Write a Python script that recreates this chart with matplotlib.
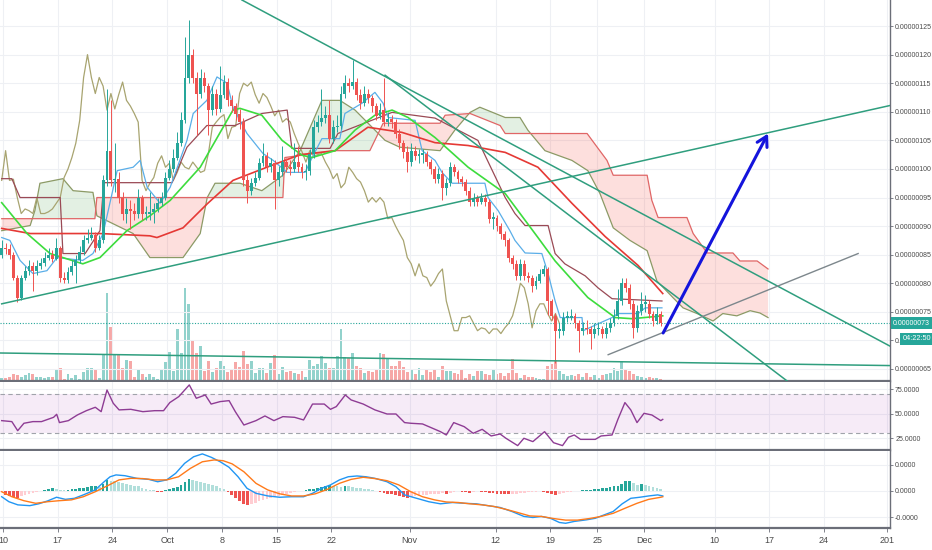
import numpy as np
import matplotlib
matplotlib.use('Agg')
import matplotlib.pyplot as plt
from matplotlib.transforms import blended_transform_factory as blend

# ---------------- data (price unit = 1e-7) ----------------
first_open = 8.50
close = [8.62, 8.60, 8.50, 8.10, 7.75, 8.10, 8.22, 8.30, 8.22, 8.30,
         8.35, 8.45, 8.50, 8.43, 8.62, 8.10, 8.05, 8.20, 8.30, 8.40,
         8.55, 8.75, 8.80, 8.85, 8.62, 8.75, 9.80, 10.32, 9.80, 9.82,
         9.50, 9.22, 9.30, 9.27, 9.22, 9.50, 9.22, 9.22, 9.25, 9.30,
         9.40, 9.50, 9.85, 10.00, 10.20, 10.45, 10.85, 11.60, 12.00, 11.60,
         11.32, 11.60, 11.45, 11.03, 11.32, 11.05, 11.30, 11.52, 11.20, 11.10,
         10.97, 10.82, 9.80, 9.62, 9.75, 9.85, 10.10, 10.23, 10.03, 10.10,
         9.80, 9.94, 10.12, 10.03, 10.00, 10.12, 10.03, 9.94, 9.97, 10.27,
         10.73, 10.82, 10.90, 10.95, 10.53, 10.73, 10.75, 11.32, 11.50, 11.45,
         11.52, 11.30, 11.15, 11.32, 11.25, 11.10, 10.93, 11.03, 10.82, 10.88,
         10.82, 10.62, 10.45, 10.30, 10.12, 10.32, 10.23, 10.25, 10.27, 10.12,
         10.00, 9.83, 9.92, 9.67, 9.75, 10.03, 9.94, 9.83, 9.77, 9.62,
         9.42, 9.50, 9.42, 9.50, 9.42, 9.13, 9.15, 9.00, 8.87, 8.75,
         8.45, 8.34, 8.13, 8.34, 8.13, 8.10, 7.95, 8.04, 8.17, 8.25,
         7.69, 7.43, 7.17, 7.17, 7.40, 7.40, 7.43, 7.30, 7.17, 7.22,
         7.20, 7.12, 7.20, 7.20, 7.12, 7.22, 7.30, 7.43, 7.69, 8.00,
         7.92, 7.64, 7.22, 7.52, 7.64, 7.64, 7.47, 7.34, 7.47, 7.30]
high = [8.75, 8.70, 8.68, 8.55, 8.15, 8.15, 8.30, 8.40, 8.38, 8.40,
        8.45, 8.55, 8.62, 8.58, 8.80, 8.65, 8.20, 8.28, 8.40, 8.50,
        8.65, 8.85, 8.95, 8.98, 8.90, 8.85, 9.90, 11.40, 11.20, 10.45,
        9.95, 9.60, 9.50, 9.45, 9.40, 9.65, 9.55, 9.35, 9.60, 9.40,
        9.50, 9.60, 9.95, 10.15, 10.35, 10.65, 11.00, 12.30, 12.60, 12.10,
        11.70, 11.75, 11.70, 11.50, 11.45, 11.40, 11.80, 11.65, 11.60, 11.30,
        11.15, 11.05, 10.90, 9.90, 9.85, 9.95, 10.20, 10.45, 10.30, 10.20,
        10.15, 10.05, 10.40, 10.20, 10.15, 10.45, 10.40, 10.10, 10.08, 10.35,
        10.85, 10.95, 11.40, 11.10, 11.20, 10.85, 10.95, 11.45, 11.65, 11.60,
        11.90, 11.60, 11.40, 11.45, 11.40, 11.30, 11.15, 11.15, 11.60, 11.00,
        10.95, 10.88, 10.70, 10.50, 10.40, 10.45, 10.40, 10.35, 10.35, 10.32,
        10.18, 10.05, 10.02, 9.98, 9.85, 10.12, 10.08, 9.98, 9.88, 9.82,
        9.68, 9.58, 9.55, 9.58, 9.56, 9.48, 9.25, 9.20, 9.05, 8.92,
        8.80, 8.50, 8.40, 8.42, 8.40, 8.20, 8.15, 8.12, 8.25, 8.32,
        8.28, 7.72, 7.48, 7.30, 7.50, 7.52, 7.55, 7.48, 7.35, 7.32,
        7.35, 7.25, 7.30, 7.32, 7.25, 7.32, 7.40, 7.55, 7.90, 8.10,
        8.10, 7.98, 7.70, 7.62, 7.85, 7.80, 7.70, 7.52, 7.58, 7.52]
low = [8.45, 8.52, 8.42, 8.05, 7.68, 7.70, 8.05, 8.15, 7.87, 8.15,
       8.25, 8.30, 8.40, 8.38, 8.40, 8.02, 8.00, 8.00, 8.15, 8.00,
       8.35, 8.50, 8.70, 8.75, 8.55, 8.58, 8.70, 9.70, 9.70, 9.60,
       9.40, 9.10, 9.05, 8.95, 9.10, 9.15, 9.10, 9.10, 9.10, 9.05,
       9.25, 9.35, 9.45, 9.80, 9.95, 10.15, 10.40, 10.80, 11.50, 11.50,
       10.60, 11.25, 11.35, 10.60, 10.95, 10.95, 11.00, 11.25, 11.10, 11.00,
       10.85, 10.70, 9.70, 9.40, 9.55, 9.70, 9.80, 10.05, 9.95, 9.95,
       9.30, 9.70, 9.88, 9.95, 9.90, 9.95, 9.95, 9.85, 9.80, 9.90,
       10.20, 10.65, 10.75, 10.80, 10.45, 10.45, 10.65, 10.70, 11.25, 11.35,
       11.40, 11.20, 11.05, 11.10, 11.15, 11.00, 10.85, 10.88, 10.75, 10.75,
       10.72, 10.55, 10.35, 10.20, 9.95, 10.05, 10.15, 10.10, 10.10, 10.05,
       9.92, 9.75, 9.75, 9.45, 9.55, 9.70, 9.88, 9.75, 9.70, 9.55,
       9.35, 9.35, 9.35, 9.38, 9.35, 9.05, 8.95, 8.92, 8.78, 8.65,
       8.38, 8.25, 8.05, 8.05, 8.05, 8.02, 7.85, 7.90, 8.00, 8.12,
       7.45, 7.35, 6.60, 7.05, 7.10, 7.32, 7.35, 7.22, 6.80, 7.10,
       7.12, 6.85, 7.05, 7.10, 7.05, 7.05, 7.15, 7.25, 7.38, 7.62,
       7.85, 7.55, 7.05, 7.15, 7.45, 7.50, 7.40, 7.25, 7.28, 7.25]
volume = [8, 10, 12, 20, 17, 12, 17, 23, 22, 13,
          11, 10, 13, 12, 33, 40, 5, 22, 8, 17,
          5, 27, 38, 38, 32, 10, 78, 263, 162, 82,
          78, 40, 63, 60, 12, 36, 20, 12, 22, 12,
          6, 36, 58, 87, 30, 155, 85, 280, 232, 123,
          85, 105, 30, 60, 28, 40, 60, 45, 28, 32,
          57, 42, 90, 50, 60, 25, 40, 40, 25, 55,
          78, 22, 42, 28, 30, 24, 22, 30, 12, 63,
          45, 51, 75, 55, 38, 38, 75, 155, 72, 68,
          85, 45, 38, 25, 30, 27, 33, 85, 82, 68,
          45, 45, 60, 43, 28, 35, 20, 38, 18, 35,
          27, 33, 12, 45, 30, 30, 23, 20, 32, 10,
          20, 15, 30, 30, 20, 18, 37, 20, 25, 15,
          25, 65, 25, 10, 17, 13, 13, 8, 5, 5,
          45, 52, 62, 30, 20, 15, 17, 15, 20, 13,
          25, 12, 17, 10, 17, 22, 25, 40, 30, 60,
          35, 30, 20, 15, 12, 10, 12, 8, 8, 6]

# Ichimoku / moving averages (bar index, value)
tenkan_idx = [0, 2.1, 4.7, 8.0, 11.6, 14.2, 16.7, 20.8, 23.4, 26.0, 29.6, 33.7, 35.5, 37.3, 40.6,
              43.2, 47.5, 49.1, 52.6, 55.2, 57.8, 59.3, 62.9, 67.0, 69.6, 73.2, 77.8, 79.6, 82.1, 86.7,
              88.0, 92.4, 95.7, 97.8, 99.1, 106.0, 107.8, 111.1, 112.9, 115.5, 123.9, 124.7, 127.3, 130.3, 131.6,
              134.2, 138.5, 140.1, 141.9, 143.2, 148.8, 149.1, 152.9, 156.5, 158.0, 163.2, 165.0, 169.3]
tenkan_val = [8.80, 8.75, 8.40, 8.17, 8.22, 8.45, 8.43, 8.40, 8.52, 8.87, 9.97, 10.03, 10.15, 9.68, 9.40,
              9.68, 10.50, 10.97, 11.20, 11.61, 11.50, 11.08, 10.62, 10.27, 10.15, 9.94, 9.94, 10.20, 10.53, 10.53,
              10.97, 11.15, 11.34, 11.15, 10.90, 10.85, 10.32, 10.15, 9.94, 9.75, 9.75, 9.50, 9.27, 8.92, 8.75,
              8.53, 8.52, 8.17, 7.69, 7.40, 7.40, 7.17, 7.29, 7.40, 7.47, 7.47, 7.57, 7.57]
kijun_idx = [0, 2.6, 4.7, 15.0, 15.7, 21.4, 25.2, 26.2, 43.7, 47.5, 52.6, 59.8, 66.7, 73.2, 74.4,
             84.2, 86.2, 100.1, 111.1, 122.1, 129.1, 131.6, 134.2, 140.1, 141.9, 144.4, 149.6, 152.9, 156.5, 169.3]
kijun_val = [9.83, 9.83, 9.50, 9.50, 8.52, 8.52, 8.92, 9.76, 9.76, 10.38, 10.76, 10.76, 10.97, 11.03, 10.36,
             10.36, 10.62, 10.99, 10.89, 10.50, 9.50, 9.22, 9.01, 9.01, 8.52, 8.34, 8.13, 7.92, 7.73, 7.69]
spanA_idx = [0, 7.3, 8.5, 9.8, 15.7, 18.3, 23.4, 24.4, 33.7, 38.0, 46.5, 50.9, 52.7, 54.7, 61.1,
             66.7, 72.1, 76.5, 82.1, 86.7, 90.6, 95.7, 98.3, 102.1, 112.4, 116.2, 120.1, 122.6, 129.1, 132.9,
             134.9, 139.3, 146.2, 150.3, 153.4, 156.8, 161.1, 165.5, 168.0, 172.1, 174.7, 178.3, 182.4, 184.9, 188.5,
             191.9, 194.4, 196.5]
spanA_val = [8.92, 9.01, 9.27, 9.75, 9.83, 9.62, 9.59, 9.18, 8.87, 8.45, 8.45, 8.87, 9.50, 9.75, 9.75,
             9.62, 9.89, 10.32, 11.20, 11.20, 11.03, 10.68, 10.50, 10.38, 10.32, 10.68, 10.99, 11.08, 10.90, 10.90,
             10.68, 10.32, 10.15, 9.97, 9.57, 8.97, 8.75, 8.57, 8.04, 7.75, 7.57, 7.47, 7.34, 7.47, 7.43,
             7.52, 7.48, 7.40]
spanB_idx = [0, 23.9, 24.4, 72.1, 72.6, 85.5, 94.4, 97.8, 112.4, 113.7, 120.1, 127.8, 129.1, 150.1, 152.7,
             155.2, 156.8, 165.5, 166.7, 168.3, 175.7, 177.3, 180.9, 187.5, 189.3, 193.7, 196.5]
spanB_val = [9.13, 9.13, 9.50, 9.50, 10.20, 10.32, 10.32, 10.80, 10.80, 10.94, 10.97, 10.76, 10.62, 10.62, 10.38,
             10.15, 9.89, 9.89, 9.45, 9.15, 9.15, 8.87, 8.53, 8.53, 8.39, 8.39, 8.25]
ma_red_idx = [0, 7.3, 25.2, 38.0, 39.8, 46.5, 52.7, 59.3, 68.0, 76.5, 85.5, 93.9, 102.6, 111.1, 119.6,
              129.1, 137.5, 146.2, 154.7, 163.2, 169.5]
ma_red_val = [8.96, 8.87, 8.87, 8.83, 8.80, 8.97, 9.39, 9.80, 10.03, 10.25, 10.32, 10.73, 10.64, 10.46, 10.41,
              10.29, 10.03, 9.40, 8.82, 8.31, 7.82]
ma_green_idx = [0, 6.5, 12.4, 20.8, 25.2, 32.1, 38.0, 43.2, 50.9, 59.3, 61.1, 66.7, 71.9, 77.0, 79.6,
                85.5, 90.6, 95.7, 100.1, 104.2, 111.1, 119.6, 129.1, 137.5, 141.9, 150.3, 157.3, 161.6, 169.5]
ma_green_val = [9.41, 8.87, 8.52, 8.34, 8.45, 8.92, 9.18, 9.45, 10.03, 11.03, 11.06, 10.94, 10.50, 10.24, 10.20,
                10.32, 10.68, 10.94, 11.03, 10.90, 10.55, 10.03, 9.57, 8.80, 8.39, 7.75, 7.40, 7.38, 7.43]
chikou_shift = 26

# drawn trend lines (anchor points: bar index, price)
trend_lines = {
    'rise_long': [(0, 7.64), (227.77, 11.11)],
    'fall_top': [(61.6, 12.956), (227.77, 6.90)],
    'fall_mid': [(98.3, 11.64), (201.4, 6.29)],
    'base': [(-0.44, 6.78), (227.77, 6.56)],
}
grey_line = [(155.5, 6.75), (219.6, 8.52)]
arrow_pts = [(169.6, 7.13), (196.5, 10.62)]

# RSI
rsi_idx = [0, 2.6, 4.1, 5.7, 8.0, 10.2, 13.3, 14.1, 14.8, 17.1, 19.4, 21.7, 24.0, 25.5, 27.0,
           28.6, 30.1, 33.1, 36.2, 39.2, 41.5, 43.1, 45.4, 48.1, 49.9, 52.2, 53.7, 56.0, 58.3, 59.9,
           62.1, 65.2, 67.5, 69.8, 72.1, 75.1, 77.4, 79.7, 82.7, 84.3, 85.8, 88.1, 89.6, 92.7, 95.7,
           98.8, 101.1, 103.3, 104.9, 107.9, 112.5, 114.0, 115.9, 118.6, 120.9, 123.2, 125.5, 127.8, 129.3, 132.3,
           133.9, 136.2, 139.2, 141.5, 143.8, 145.3, 146.8, 148.4, 152.2, 153.7, 156.5, 158.0, 159.8, 161.3, 162.9,
           164.7, 166.7, 169.0, 169.5]
rsi_val = [43, 42, 32.7, 40.3, 42, 42, 46.4, 49.5, 41, 43, 48.8, 53.2, 56.7, 52.2, 74.4,
           60.8, 54, 54.6, 52.2, 53.2, 53.2, 61.5, 67.6, 79.6, 65.9, 69.3, 60, 62.5, 63.5, 52.2,
           38.5, 43, 47.8, 43, 47.1, 46.4, 43.7, 60, 60, 54.6, 57.4, 69.3, 64.2, 60, 54,
           49.8, 49.8, 41, 40.3, 39.6, 31.7, 28.3, 41, 36.8, 30, 34.1, 27.3, 29.3, 24.9, 17.4,
           24.9, 21.5, 31.7, 20.4, 17.4, 25.9, 28.3, 23.8, 23.8, 27.3, 28.3, 44.3, 61.5, 54, 41,
           50.5, 48.8, 43, 44.3]

# MACD (unit = 2e-9)
macd_idx = [0, 1.85, 4.14, 7.19, 9.48, 11.77, 14.06, 16.35, 18.64, 20.93, 23.98, 26.27, 27.8, 29.32, 31.61,
            34.66, 37.72, 40.0, 42.3, 44.6, 46.9, 49.2, 51.45, 53.74, 56.03, 58.3, 60.6, 62.9, 65.2, 68.24,
            71.3, 74.3, 77.4, 79.7, 82.0, 84.3, 86.6, 88.85, 91.1, 93.4, 95.7, 98.8, 101.1, 103.3, 106.4,
            109.5, 112.5, 115.6, 118.6, 121.7, 124.7, 127.8, 130.8, 133.9, 136.2, 138.4, 140.7, 143.0, 144.6, 146.8,
            149.9, 152.2, 154.5, 156.8, 159.1, 161.3, 163.6, 165.9, 168.2, 169.5]
macd_val = [-0.22, -0.41, -0.53, -0.56, -0.49, -0.38, -0.24, -0.32, -0.28, -0.15, 0.04, 0.35, 0.54, 0.61, 0.58,
            0.48, 0.44, 0.35, 0.42, 0.67, 1.05, 1.30, 1.41, 1.28, 1.11, 0.90, 0.54, 0.10, -0.09, -0.19,
            -0.24, -0.22, -0.22, -0.09, 0.10, 0.23, 0.42, 0.54, 0.57, 0.54, 0.48, 0.35, 0.16, -0.15, -0.28,
            -0.41, -0.49, -0.44, -0.47, -0.49, -0.56, -0.63, -0.78, -0.97, -1.01, -0.97, -1.04, -1.20, -1.23, -1.16,
            -1.10, -1.04, -0.91, -0.78, -0.49, -0.28, -0.24, -0.19, -0.15, -0.19]
signal_idx = [0, 2.61, 5.66, 8.72, 11.77, 14.82, 17.87, 20.93, 23.98, 27.03, 30.08, 33.14, 36.19, 39.24, 42.3,
              45.35, 48.4, 51.45, 54.5, 56.8, 59.1, 62.1, 65.2, 68.2, 71.3, 74.3, 77.4, 80.4, 83.5, 86.6,
              89.6, 92.7, 95.7, 98.8, 101.8, 104.9, 107.9, 111.0, 114.0, 117.1, 120.1, 123.2, 126.2, 129.3, 132.3,
              135.4, 138.4, 141.5, 144.6, 147.6, 150.7, 153.7, 156.8, 159.8, 162.9, 165.9, 169.0, 169.5]
signal_val = [-0.03, -0.22, -0.37, -0.47, -0.41, -0.37, -0.34, -0.22, -0.03, 0.19, 0.42, 0.48, 0.47, 0.42, 0.42,
              0.54, 0.86, 1.11, 1.18, 1.15, 1.03, 0.73, 0.29, 0.04, -0.11, -0.19, -0.19, -0.11, 0.06, 0.29,
              0.44, 0.52, 0.47, 0.39, 0.23, -0.03, -0.22, -0.34, -0.42, -0.44, -0.49, -0.53, -0.59, -0.70, -0.82,
              -0.95, -0.97, -1.05, -1.11, -1.11, -1.05, -0.97, -0.85, -0.66, -0.47, -0.32, -0.24, -0.22]
hist = [-0.05, -0.15, -0.20, -0.24, -0.25, -0.20, -0.15, -0.10, -0.06, -0.03,
        -0.01, 0.02, 0.08, 0.10, 0.09, 0.05, 0.03, 0.05, 0.07, 0.09,
        0.10, 0.12, 0.14, 0.17, 0.19, 0.15, 0.28, 0.42, 0.38, 0.36,
        0.33, 0.30, 0.27, 0.24, 0.20, 0.17, 0.13, 0.09, 0.05, 0.02,
        -0.03, -0.04, 0.02, 0.06, 0.10, 0.16, 0.24, 0.33, 0.45, 0.42,
        0.38, 0.34, 0.30, 0.26, 0.22, 0.17, 0.12, 0.06, -0.05, -0.15,
        -0.27, -0.38, -0.48, -0.55, -0.50, -0.45, -0.40, -0.35, -0.30, -0.26,
        -0.22, -0.18, -0.14, -0.10, -0.07, -0.04, -0.02, 0.01, 0.03, 0.06,
        0.08, 0.12, 0.16, 0.20, 0.22, 0.20, 0.18, 0.16, 0.20, 0.18,
        0.15, 0.13, 0.11, 0.09, 0.07, 0.04, -0.02, -0.05, -0.08, -0.10,
        -0.13, -0.16, -0.19, -0.22, -0.25, -0.22, -0.20, -0.18, -0.16, -0.14,
        -0.12, -0.10, -0.10, -0.08, -0.10, -0.06, -0.03, -0.02, -0.04, -0.05,
        -0.06, -0.04, -0.02, -0.03, -0.05, -0.07, -0.09, -0.10, -0.11, -0.12,
        -0.13, -0.12, -0.10, -0.08, -0.06, -0.05, -0.04, -0.03, -0.02, -0.04,
        -0.08, -0.12, -0.15, -0.13, -0.08, -0.05, -0.03, -0.02, -0.01, 0.02,
        0.03, 0.05, 0.06, 0.08, 0.10, 0.12, 0.14, 0.17, 0.20, 0.26,
        0.36, 0.38, 0.30, 0.24, 0.26, 0.22, 0.19, 0.15, 0.12, 0.08]

# axis labels
price_ticks = [6.5, 7.0, 7.5, 8.0, 8.5, 9.0, 9.5, 10.0, 10.5, 11.0, 11.5, 12.0, 12.5]
hidden_tick = 7.0          # label mostly covered by the countdown tag; only "0." shows
rsi_ticks = [25, 50, 75]
macd_ticks = [1, 0, -1]
macd_labels = ['0.0000', '0.0000', '-0.0000']
date_labels = ['10', '17', '24', 'Oct', '8', '15', '22', 'Nov', '12', '19', '25', 'Dec', '10', '17', '24', '201']
date_days = [0, 7, 14, 21, 28, 35, 42, 52, 63, 70, 76, 82, 91, 98, 105, 113]
countdown = '04:22:50'

# ---------------- layout ----------------
GREEN, RED = '#26a69a', '#ef5350'
GRID = '#eef0f4'
AXC = '#6b6e78'
TXT = '#4a4a4a'
fam = ['Liberation Sans', 'DejaVu Sans']
LS = 5.0
plt.rcParams['font.family'] = ['DejaVu Sans']

W, H = 932, 550
fig = plt.figure(figsize=(W / 100, H / 100), dpi=100)
fig.patch.set_facecolor('white')


def rect(x0, y0, x1, y1):
    return [x0 / W, 1 - y1 / H, (x1 - x0) / W, (y1 - y0) / H]


axv = fig.add_axes(rect(0, 0, 890, 381))
ax = fig.add_axes(rect(0, 0, 890, 381), sharex=axv)
ax.patch.set_visible(False)
axr = fig.add_axes(rect(0, 382, 890, 450), sharex=axv)
axm = fig.add_axes(rect(0, 451, 890, 528), sharex=axv)

n = len(close)
idx = np.arange(n)
c = np.array(close)
o = np.array([first_open] + close[:-1])
h = np.array(high)
l = np.array(low)
up = c >= o
cols = np.where(up, GREEN, RED)

bars_per_day = 2.005
day0 = 0.33
date_pos = [day0 + bars_per_day * d for d in date_days]

axv.set_xlim(-0.436, 227.77)

# grid
for a in (ax, axr, axm):
    for p in date_pos:
        a.axvline(p, color=GRID, lw=0.8, zorder=0)
for p in price_ticks:
    ax.axhline(p, color=GRID, lw=0.8, zorder=0)
for p in rsi_ticks:
    axr.axhline(p, color=GRID, lw=0.8, zorder=0)
for p in macd_ticks:
    axm.axhline(p, color=GRID, lw=0.8, zorder=0)

# volume
axv.bar(idx, volume, width=0.75, color=cols, alpha=0.5, linewidth=0)
axv.set_ylim(0, 1143)
axv.axis('off')

# cloud
xc = np.linspace(0, max(spanA_idx), 2000)
sa = np.interp(xc, spanA_idx, spanA_val)
sb = np.interp(xc, spanB_idx, spanB_val)
ax.fill_between(xc, sa, sb, where=sa >= sb, interpolate=True, color='#43a047', alpha=0.15, lw=0, zorder=1)
ax.fill_between(xc, sa, sb, where=sa < sb, interpolate=True, color='#f44336', alpha=0.17, lw=0, zorder=1)
ax.plot(spanA_idx, spanA_val, color='#8c9a66', lw=0.9, zorder=2)
ax.plot(spanB_idx, spanB_val, color='#e06666', lw=0.9, zorder=2)

# lines
ax.plot(idx[:n - chikou_shift], c[chikou_shift:], color='#a8a470', lw=0.9, zorder=2)
ax.plot(kijun_idx, kijun_val, color='#9a4a55', lw=0.9, zorder=2)
ax.plot(tenkan_idx, tenkan_val, color='#5aaee8', lw=0.9, zorder=2)
ax.plot(ma_red_idx, ma_red_val, color='#e53935', lw=1.2, zorder=2)
ax.plot(ma_green_idx, ma_green_val, color='#3ddc3d', lw=1.2, zorder=2)

# candles
ax.vlines(idx, l, h, colors=cols, lw=0.7, zorder=3)
body = np.maximum(np.abs(c - o), 0.025)
ax.bar(idx, body, bottom=np.minimum(o, c), width=0.75, color=cols, linewidth=0, zorder=3)

# current price line
ax.axhline(c[-1], color=GREEN, lw=0.8, ls=(0, (1, 1.5)), zorder=2)

# trend lines
for pts in trend_lines.values():
    ax.plot([pts[0][0], pts[1][0]], [pts[0][1], pts[1][1]], color='#2f9e7e', lw=1.1, zorder=4)
ax.plot([grey_line[0][0], grey_line[1][0]], [grey_line[0][1], grey_line[1][1]], color='#7d878c', lw=1.0, zorder=4)
ax.annotate('', xy=arrow_pts[1], xytext=arrow_pts[0],
            arrowprops=dict(arrowstyle='->,head_length=0.7,head_width=0.4', color='#1414dc', lw=2.2,
                            shrinkA=0, shrinkB=0), zorder=5)

ax.set_ylim(6.29, 12.956)

# RSI
axr.axhspan(30, 70, color='#9c27b0', alpha=0.09, lw=0, zorder=0)
axr.axhline(70, color='#a0a3aa', lw=0.8, ls=(0, (4, 3)))
axr.axhline(30, color='#a0a3aa', lw=0.8, ls=(0, (4, 3)))
axr.plot(rsi_idx, rsi_val, color='#8e3c94', lw=1.0)
axr.set_ylim(12.9, 82.6)

# MACD
hcols = []
for i, v in enumerate(hist):
    prev = hist[i - 1] if i > 0 else v
    if v >= 0:
        hcols.append(GREEN if v >= prev else '#b2dfdb')
    else:
        hcols.append(RED if v < prev else '#ffcdd2')
axm.bar(idx, hist, width=0.7, color=hcols, linewidth=0, zorder=2)
axm.plot(macd_idx, macd_val, color='#2196f3', lw=1.0, zorder=3)
axm.plot(signal_idx, signal_val, color='#ff7a1a', lw=1.0, zorder=3)
axm.set_ylim(-1.41, 1.52)

# axes styling
for a in (ax, axr, axm):
    for s in ('top', 'left'):
        a.spines[s].set_visible(False)
    a.spines['right'].set_color(AXC)
    a.spines['right'].set_linewidth(1.0)
    a.spines['bottom'].set_color(AXC)
    a.spines['bottom'].set_linewidth(1.6)
    a.yaxis.tick_right()
    a.tick_params(axis='y', length=2.5, width=0.6, color=AXC, labelcolor=TXT, labelsize=LS, pad=1.2)
    a.tick_params(axis='x', bottom=False, labelbottom=False)

ax.set_yticks(price_ticks)
ax.set_yticklabels(['0.' if v == hidden_tick else f"{v * 1e-7:.8f}" for v in price_ticks], family=fam)
axr.set_yticks(rsi_ticks)
axr.set_yticklabels([f"{v:.4f}" for v in rsi_ticks], family=fam)
axm.set_yticks(macd_ticks)
axm.set_yticklabels(macd_labels, family=fam)

axm.set_xticks(date_pos)
axm.set_xticklabels(date_labels, family=fam)
axm.tick_params(axis='x', bottom=True, labelbottom=True, length=3, width=0.6, color=AXC,
                labelcolor=TXT, labelsize=6.5, pad=3)

# price tags
tr = blend(ax.transAxes, ax.transData)
ax.text(1.0035, c[-1], f"{c[-1] * 1e-7:.8f}", transform=tr, ha='left', va='center', fontsize=LS,
        color='white', family=fam, clip_on=False, zorder=20,
        bbox=dict(boxstyle='square,pad=0.35', fc=GREEN, ec='none'))
ax.text(1.0145, 7.03, countdown, transform=tr, ha='left', va='center', fontsize=LS + 0.3,
        color='white', family=fam, clip_on=False, zorder=20,
        bbox=dict(boxstyle='square,pad=0.35', fc=GREEN, ec='none'))

fig.savefig('out.png', dpi=100, facecolor='white')
